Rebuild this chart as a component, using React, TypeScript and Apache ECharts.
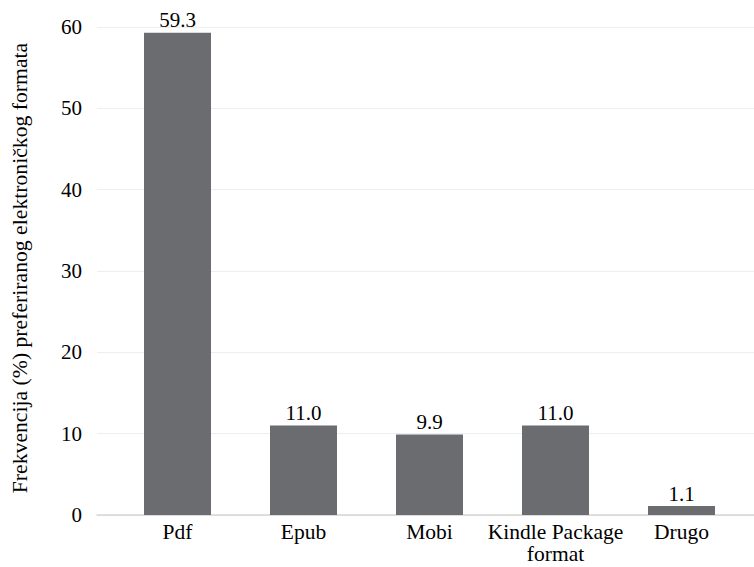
import React, { useEffect, useRef } from "react";
import * as echarts from "echarts";

const categories = ["Pdf", "Epub", "Mobi", "Kindle Package\nformat", "Drugo"];
const values = [59.3, 11.0, 9.9, 11.0, 1.1];
const yTicks = { min: 0, max: 60, interval: 10 };
const yTitle = "Frekvencija (%) preferiranog elektroničkog formata";

const FONT = "'Liberation Serif', 'Times New Roman', serif";

export default function App() {
  const ref = useRef<HTMLDivElement>(null);
  useEffect(() => {
    if (!ref.current) return;
    const chart = echarts.init(ref.current, null, { renderer: "svg" });
    chart.setOption({
      animation: false,
      backgroundColor: "#ffffff",
      textStyle: { fontFamily: FONT },
      grid: [
        { left: 97, right: 0, top: 27, bottom: 52, outerBoundsMode: "none", containLabel: false },
        { left: 114.5, width: 630, top: 27, bottom: 52, outerBoundsMode: "none", containLabel: false },
      ],
      xAxis: [
        {
          type: "category",
          gridIndex: 0,
          data: [""],
          axisLine: { show: true, lineStyle: { color: "#d6d6d6", width: 1.5 } },
          axisTick: { show: false },
          axisLabel: { show: false },
        },
        {
          type: "category",
          gridIndex: 1,
          data: categories,
          axisLine: { show: false },
          axisTick: { show: false },
          axisLabel: {
            color: "#000000",
            fontFamily: FONT,
            fontSize: 21.5,
            lineHeight: 22,
            margin: 6,
            interval: 0,
          },
        },
      ],
      yAxis: [
        {
          type: "value",
          gridIndex: 0,
          min: yTicks.min,
          max: yTicks.max,
          interval: yTicks.interval,
          axisLine: { show: false },
          axisTick: { show: false },
          axisLabel: { color: "#000000", fontFamily: FONT, fontSize: 21, margin: 15 },
          splitLine: { show: true, lineStyle: { color: "#eeeeee", width: 1 } },
        },
        {
          type: "value",
          gridIndex: 1,
          min: yTicks.min,
          max: yTicks.max,
          interval: yTicks.interval,
          show: false,
          splitLine: { show: false },
        },
      ],
      graphic: [
        {
          type: "text",
          x: 20,
          y: 268,
          rotation: Math.PI / 2,
          style: {
            text: yTitle,
            fontFamily: FONT,
            fontSize: 21.7,
            fill: "#000000",
            align: "center",
            verticalAlign: "middle",
          },
        },
      ],
      series: [
        {
          type: "bar",
          xAxisIndex: 1,
          yAxisIndex: 1,
          data: values,
          barWidth: 67,
          itemStyle: { color: "#6b6c70" },
          label: {
            show: true,
            position: "top",
            distance: 2,
            color: "#000000",
            fontFamily: FONT,
            fontSize: 21,
            formatter: (p: any) => Number(p.value).toFixed(1),
          },
        },
      ],
    });
    return () => chart.dispose();
  }, []);
  return <div ref={ref} style={{ width: 754, height: 567, position: "absolute", left: 0, top: 0 }} />;
}
